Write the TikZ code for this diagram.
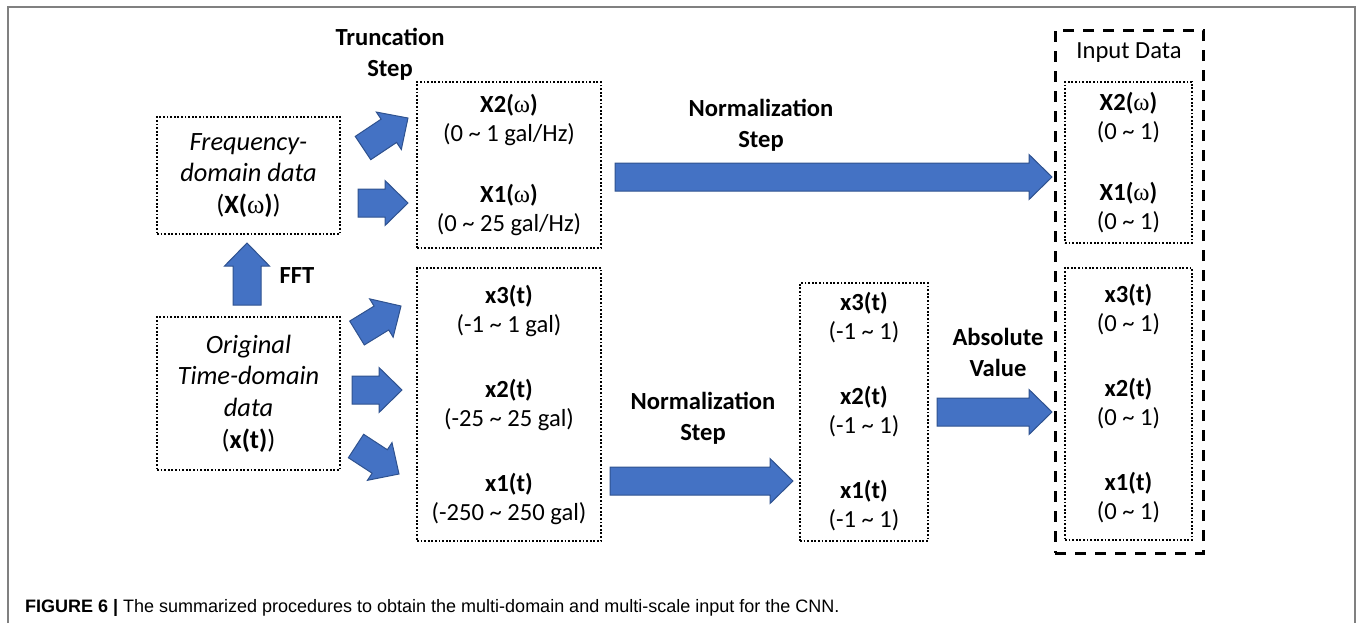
\documentclass[tikz,border=0pt]{standalone}
\usepackage{fontspec}
\setmainfont{Carlito}
\newfontfamily\capfont{Liberation Sans}
\newfontfamily\grkfont{Liberation Serif}
\usetikzlibrary{calc}

\definecolor{arrowblue}{HTML}{4472C4}
\definecolor{arrowedge}{HTML}{2F528F}

\newcommand{\om}{{\grkfont\mdseries ω}}
\newcommand{\tl}{\textasciitilde}

% block arrow from one coordinate to another
\newcommand{\bigarrow}[2]{%
  \draw[bigarrow] let \p1=($(#2)-(#1)$), \n1={atan2(\y1,\x1)}, \n2={veclen(\x1,\y1)} in
    {[shift={(#1)}, rotate=\n1]
    (0pt,-7pt) -- (\n2-11.5pt,-7pt) -- (\n2-11.5pt,-11.25pt) -- (\n2,0pt)
    -- (\n2-11.5pt,11.25pt) -- (\n2-11.5pt,7pt) -- (0pt,7pt) -- cycle};
}

\tikzset{
  dotbox/.style={draw, line width=1pt, dash pattern=on 0.9pt off 0.9pt,
    align=center, inner sep=0pt},
  dashbox/.style={draw, line width=1.5pt, dash pattern=on 5.5pt off 4.5pt, inner sep=0pt},
  bigarrow/.style={fill=arrowblue, draw=arrowedge, line width=0.5pt},
  lbl/.style={align=center, font=\fontsize{12.3}{15.5}\selectfont\bfseries},
  itl/.style={font=\fontsize{13.2}{15.8}\selectfont\itshape}
}

\begin{document}
\begin{tikzpicture}[x=0.5pt, y=-0.5pt, font=\fontsize{12.3}{14.5}\selectfont]
    \useasboundingbox (0,0) rectangle (1360,623);

    % outer frame
    \draw[gray, line width=0.6pt] (8,623) -- (8,7) -- (1355,7) -- (1355,623);

    % source data
    \node[dotbox, itl, minimum width=91.5pt, minimum height=58.5pt] (freq) at (248.5,175.5)
      {Frequency-\\domain data\\\upshape(\textbf{X(}\om\textbf{)})};
    \node[dotbox, itl, minimum width=91.5pt, minimum height=76.5pt] (orig) at (248.5,393.5)
      {Original\\Time-domain\\data\\\upshape(\textbf{x(t)})};

    % truncated data
    \node[dotbox, minimum width=92pt, minimum height=83pt] (truncf) at (509,165)
      {\textbf{X2(}\om\textbf{)}\\(0 \tl{} 1 gal/Hz)\\[16pt]\textbf{X1(}\om\textbf{)}\\(0 \tl{} 25 gal/Hz)};
    \node[dotbox, minimum width=92pt, minimum height=136.5pt] (trunct) at (509,404.5)
      {\textbf{x3(t)}\\(-1 \tl{} 1 gal)\\[18pt]\textbf{x2(t)}\\(-25 \tl{} 25 gal)\\[18pt]\textbf{x1(t)}\\(-250 \tl{} 250 gal)};

    % normalized data
    \node[dotbox, minimum width=64pt, minimum height=129pt] (norm) at (864,412)
      {\textbf{x3(t)}\\(-1 \tl{} 1)\\[18pt]\textbf{x2(t)}\\(-1 \tl{} 1)\\[18pt]\textbf{x1(t)}\\(-1 \tl{} 1)};

    % input data
    \node[dashbox, minimum width=74pt, minimum height=261.5pt] (input) at (1129,291.5) {};
    \node (inlbl) at (1129,53) {Input Data};
    \node[dotbox, minimum width=63.5pt, minimum height=80.5pt] (inf) at (1128.5,162.5)
      {\textbf{X2(}\om\textbf{)}\\(0 \tl{} 1)\\[16pt]\textbf{X1(}\om\textbf{)}\\(0 \tl{} 1)};
    \node[dotbox, minimum width=63.5pt, minimum height=136pt] (int) at (1128.5,404)
      {\textbf{x3(t)}\\(0 \tl{} 1)\\[18pt]\textbf{x2(t)}\\(0 \tl{} 1)\\[18pt]\textbf{x1(t)}\\(0 \tl{} 1)};

    % step labels
    \node[lbl] (trunclbl) at (390,54) {Truncation\\Step};
    \node[lbl] (fftlbl) at (297,276) {FFT};
    \node[lbl] (normlblf) at (761,125) {Normalization\\Step};
    \node[lbl] (normlblt) at (703,418) {Normalization\\Step};
    \node[lbl] (abslbl) at (998,352) {Absolute\\Value};

    % arrow ends
    \coordinate (fft0) at (247,305);  \coordinate (fft1) at (247,243);
    \coordinate (fa0) at (363,148);   \coordinate (fa1) at (408,118);
    \coordinate (fb0) at (358,203);   \coordinate (fb1) at (408,203);
    \coordinate (ta0) at (357,333);   \coordinate (ta1) at (401,306);
    \coordinate (tb0) at (352,390);   \coordinate (tb1) at (402,390);
    \coordinate (tc0) at (356,446);   \coordinate (tc1) at (399,474);
    \coordinate (nf0) at (615,177);   \coordinate (nf1) at (1052,177);
    \coordinate (nt0) at (610,481);   \coordinate (nt1) at (793,481);
    \coordinate (ab0) at (937,412);   \coordinate (ab1) at (1052,412);

    % block arrows
    \bigarrow{fft0}{fft1}
    \bigarrow{fa0}{fa1}
    \bigarrow{fb0}{fb1}
    \bigarrow{ta0}{ta1}
    \bigarrow{tb0}{tb1}
    \bigarrow{tc0}{tc1}
    \bigarrow{nf0}{nf1}
    \bigarrow{nt0}{nt1}
    \bigarrow{ab0}{ab1}

    % caption
    \node[anchor=west, font=\capfont\fontsize{9}{11}\selectfont] (caption) at (18,608)
      {\textbf{FIGURE 6 |} The summarized procedures to obtain the multi-domain and multi-scale input for the CNN.};
\end{tikzpicture}
\end{document}
